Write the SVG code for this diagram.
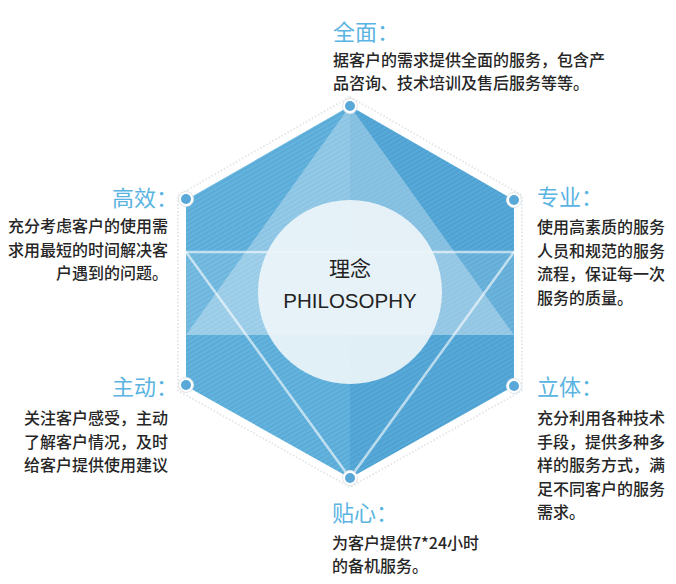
<svg xmlns="http://www.w3.org/2000/svg" width="676" height="584" viewBox="0 0 676 584">
<style>
.title{font-family:"Noto Sans CJK SC","Noto Sans",sans-serif;font-size:22px;fill:#5ab4e2}
.body{font-family:"Noto Sans CJK SC","Noto Sans",sans-serif;font-size:16px;font-weight:500;fill:#262626}
.dotring{fill:#ffffff;stroke:#dfe5ea;stroke-width:1}
.dot{fill:#5aa8d8}
.tri{fill:none;stroke:#ffffff;stroke-opacity:0.6;stroke-width:2.5}
</style>
<defs>
<pattern id="stripes" patternUnits="userSpaceOnUse" width="4" height="4" patternTransform="rotate(-30)">
<rect x="0" y="0" width="4" height="1.8" fill="#1f5f8f" fill-opacity="0.12"/>
</pattern>
<clipPath id="hexclip">
<polygon points="350,106 514,200 514,386 350,478 186,386 186,200"/>
</clipPath>
</defs>
<rect width="676" height="584" fill="#ffffff"/>
<g id="hexagon">
<polygon points="350,96.8 522,195.4 522,390.6 350,487.2 178,390.6 178,195.4" fill="none" stroke="#e2e7eb" stroke-width="2" stroke-dasharray="1.5 2"/>
<g clip-path="url(#hexclip)">
<rect x="186" y="106" width="164" height="372" fill="#63b4df"/>
<rect x="350" y="106" width="164" height="372" fill="#56aad9"/>
<rect x="186" y="106" width="328" height="372" fill="url(#stripes)"/>
<rect x="186" y="252" width="328" height="83" fill="#ffffff" fill-opacity="0.12"/>
<polygon points="350,106 514,335 186,335" fill="#ffffff" fill-opacity="0.3"/>
</g>
</g>
<g id="connectors">
<polyline class="tri" points="186,252 514,252"/>
<polyline class="tri" points="186,252 350,478 514,252"/>
</g>
<g id="center">
<circle cx="350" cy="292" r="92" fill="#edf5f9" fill-opacity="0.92"/>
<text x="350" y="276" text-anchor="middle" font-family="Noto Sans CJK SC, sans-serif" font-size="21" fill="#222">理念</text>
<text x="350" y="308" text-anchor="middle" font-family="Liberation Sans, Arial, sans-serif" font-size="20.5" fill="#222">PHILOSOPHY</text>
</g>
<g id="node-top">
<circle class="dotring" cx="350" cy="106" r="7.5"/>
<circle class="dot" cx="350" cy="106" r="5"/>
<text class="title" x="333" y="40">全面：</text>
<text class="body" x="333" y="66">据客户的需求提供全面的服务，包含产</text>
<text class="body" x="333" y="89">品咨询、技术培训及售后服务等等。</text>
</g>
<g id="node-upper-left">
<circle class="dotring" cx="186" cy="199" r="7.5"/>
<circle class="dot" cx="186" cy="199" r="5"/>
<text class="title" x="112" y="206">高效：</text>
<text class="body" x="168" y="232" text-anchor="end">充分考虑客户的使用需</text>
<text class="body" x="168" y="255.5" text-anchor="end">求用最短的时间解决客</text>
<text class="body" x="168" y="279" text-anchor="end">户遇到的问题。</text>
</g>
<g id="node-upper-right">
<circle class="dotring" cx="514" cy="200" r="7.5"/>
<circle class="dot" cx="514" cy="200" r="5"/>
<text class="title" x="537" y="205">专业：</text>
<text class="body" x="537" y="233">使用高素质的服务</text>
<text class="body" x="537" y="256.5">人员和规范的服务</text>
<text class="body" x="537" y="280">流程，保证每一次</text>
<text class="body" x="537" y="303.5">服务的质量。</text>
</g>
<g id="node-lower-left">
<circle class="dotring" cx="186" cy="385" r="7.5"/>
<circle class="dot" cx="186" cy="385" r="5"/>
<text class="title" x="112" y="395">主动：</text>
<text class="body" x="168" y="424" text-anchor="end">关注客户感受，主动</text>
<text class="body" x="168" y="447.5" text-anchor="end">了解客户情况，及时</text>
<text class="body" x="168" y="471" text-anchor="end">给客户提供使用建议</text>
</g>
<g id="node-lower-right">
<circle class="dotring" cx="514" cy="386" r="7.5"/>
<circle class="dot" cx="514" cy="386" r="5"/>
<text class="title" x="537" y="395">立体：</text>
<text class="body" x="537" y="424">充分利用各种技术</text>
<text class="body" x="537" y="447.5">手段，提供多种多</text>
<text class="body" x="537" y="471">样的服务方式，满</text>
<text class="body" x="537" y="494.5">足不同客户的服务</text>
<text class="body" x="537" y="518">需求。</text>
</g>
<g id="node-bottom">
<circle class="dotring" cx="350" cy="478" r="7.5"/>
<circle class="dot" cx="350" cy="478" r="5"/>
<text class="title" x="332" y="521">贴心：</text>
<text class="body" x="332" y="549">为客户提供7*24小时</text>
<text class="body" x="332" y="571.5">的备机服务。</text>
</g>
</svg>
